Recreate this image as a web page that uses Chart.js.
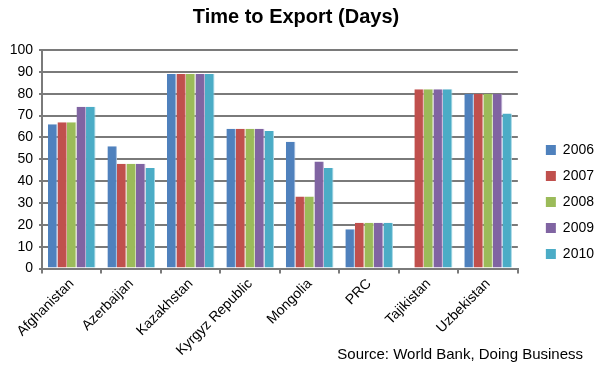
<!DOCTYPE html>
<html>
<head>
<meta charset="utf-8">
<script src="https://cdn.jsdelivr.net/npm/chart.js@4/dist/chart.umd.min.js"></script>
<style>
  html, body { margin: 0; padding: 0; background: #fff; }
</style>
</head>
<body>
<canvas id="exportChart" width="595" height="366"></canvas>
<script>
var countries = ["Afghanistan", "Azerbaijan", "Kazakhstan", "Kyrgyz Republic", "Mongolia", "PRC", "Tajikistan", "Uzbekistan"];
var years = ["2006", "2007", "2008", "2009", "2010"];
var days2006 = [66, 56, 89, 64, 58, 18, null, 80];
var days2007 = [67, 48, 89, 64, 33, 21, 82, 80];
var days2008 = [67, 48, 89, 64, 33, 21, 82, 80];
var days2009 = [74, 48, 89, 64, 49, 21, 82, 80];
var days2010 = [74, 46, 89, 63, 46, 21, 82, 71];
var yTicks = [0, 10, 20, 30, 40, 50, 60, 70, 80, 90, 100];

var colours = ['#4F81BD', '#C0504D', '#9BBB59', '#8064A2', '#4BACC6'];
var edges = ['#9DB9DC', '#E0A09E', '#CCDDAD', '#BDAED3', '#A2D6E4'];
var allDays = [days2006, days2007, days2008, days2009, days2010];

Chart.defaults.font.family = "'Liberation Sans', Arial, sans-serif";
Chart.defaults.color = '#000';

// move the legend further right and lower, like the original
var legendWidthFix = -5, legendShiftX = 16, legendDrop = 18;
var legendShift = {
	id: 'legendShift',
	beforeInit: function (chart) {
		var fit = chart.legend.fit;
		chart.legend.fit = function () {
			fit.call(this);
			this.width += legendWidthFix;
		};
	},
	afterLayout: function (chart) {
		var lg = chart.legend;
		lg.left += legendShiftX;
		lg.right += legendShiftX;
		lg.top += legendDrop;
		lg.bottom += legendDrop;
	}
};

var ctx = document.getElementById("exportChart");
var exportChart = new Chart(ctx, {
	type: 'bar',
	data: {
		labels: countries,
		datasets: years.map(function (y, i) {
			return {
				label: y,
				data: allDays[i],
				backgroundColor: colours[i],
				borderColor: edges[i],
				borderWidth: { top: 0, left: 0, bottom: 0, right: 1 },
				borderSkipped: false,
				categoryPercentage: 0.8,
				barPercentage: 1.0
			};
		})
	},
	plugins: [legendShift],
	options: {
		responsive: false,
		animation: false,
		layout: { padding: { left: 9, right: 12, top: 4, bottom: 2 } },
		plugins: {
			title: {
				display: true,
				text: 'Time to Export (Days)',
				font: { size: 20, weight: 'bold' },
				padding: { top: 1, bottom: 21 }
			},
			subtitle: {
				display: true,
				position: 'bottom',
				align: 'end',
				text: 'Source: World Bank, Doing Business',
				font: { size: 15 },
				padding: { top: -15, bottom: 0 }
			},
			legend: {
				position: 'right',
				labels: {
					boxWidth: 10,
					boxHeight: 10,
					padding: 12,
					font: { size: 14 },
					generateLabels: function (chart) {
						return Chart.defaults.plugins.legend.labels.generateLabels(chart).map(function (item) {
							item.lineWidth = 0;
							return item;
						});
					}
				}
			},
			tooltip: { enabled: false }
		},
		scales: {
			x: {
				afterFit: function (scale) {
					// rotated first label may hang into the margin, as in the original
					scale.paddingLeft = 0;
					scale.paddingRight = 0;
				},
				grid: {
					offset: true,
					drawOnChartArea: false,
					color: '#7a7a7a',
					lineWidth: 2,
					tickLength: 5
				},
				border: { color: '#7a7a7a', width: 2 },
				ticks: {
					maxRotation: 45,
					minRotation: 45,
					font: { size: 14 },
					padding: 2
				}
			},
			y: {
				min: 0,
				max: 100,
				afterBuildTicks: function (axis) {
					axis.ticks = yTicks.map(function (v) { return { value: v }; });
				},
				afterFit: function (scale) {
					scale.width = 33;
				},
				grid: {
					color: '#7a7a7a',
					lineWidth: 2,
					tickLength: 3
				},
				border: { color: '#7a7a7a', width: 2 },
				ticks: {
					font: { size: 14 },
					padding: 6
				}
			}
		}
	}
});
</script>
</body>
</html>
